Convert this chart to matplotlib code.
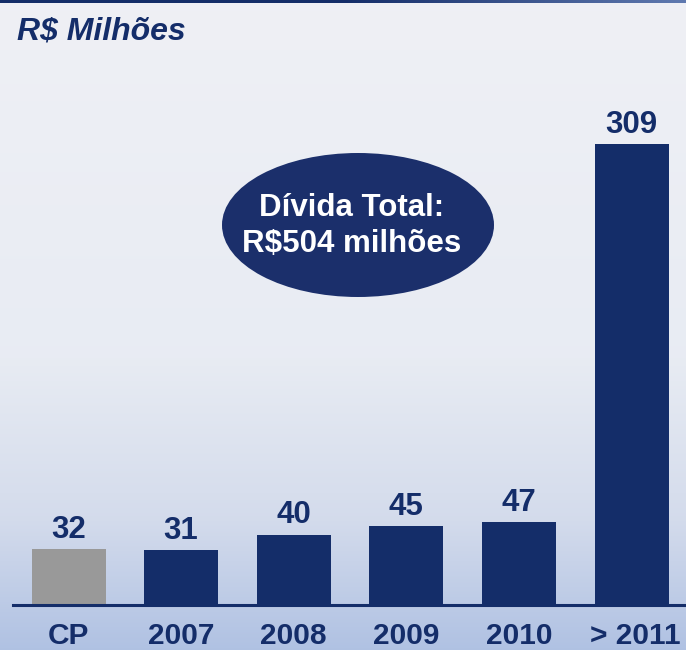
import numpy as np
import matplotlib
matplotlib.use("Agg")
import matplotlib.pyplot as plt
from matplotlib.patches import Ellipse
from matplotlib.colors import LinearSegmentedColormap
import matplotlib.transforms as mtransforms

# ---- data ----
categories = ["CP", "2007", "2008", "2009", "2010", "> 2011"]
values = [32, 31, 40, 45, 47, 309]
title_text = "R$ Milhões"
badge_text = "Dívida Total:\nR$504 milhões"

NAVY = "#142d69"
GRAY = "#999999"
bar_colors = [GRAY] + [NAVY] * (len(values) - 1)

W, H = 686, 650
fig = plt.figure(figsize=(W / 100, H / 100), dpi=100)

# background gradient
bg = fig.add_axes([0, 0, 1, 1], zorder=0)
bg.set_axis_off()
cmap = LinearSegmentedColormap.from_list(
    "bgc",
    [(0.0, (0.937, 0.941, 0.961)),
     (0.55, (0.910, 0.925, 0.953)),
     (0.80, (0.830, 0.860, 0.925)),
     (1.0, (0.690, 0.760, 0.890))])
grad = np.linspace(0, 1, 256).reshape(-1, 1)
bg.imshow(grad, aspect="auto", cmap=cmap, extent=[0, 1, 1, 0])
bg.set_xlim(0, 1)
bg.set_ylim(1, 0)
# top rule
top_cmap = LinearSegmentedColormap.from_list("top", [NAVY, NAVY, "#5f79b0"])
bg.imshow(np.linspace(0, 1, 256).reshape(1, -1), aspect="auto", cmap=top_cmap,
          extent=[0, 1, 3 / H, 0])

# main axes
left_px, right_px = 13, 686
base_px, top_px = 605, 60
ax = fig.add_axes([left_px / W, (H - base_px) / H, (right_px - left_px) / W,
                   (base_px - top_px) / H], zorder=1)
ax.patch.set_alpha(0)

T, k = 50.0, 0.8185
def fwd(y):
    y = np.asarray(y, dtype=float)
    return np.where(y <= T, y, T + (y - T) * k)
def inv(y):
    y = np.asarray(y, dtype=float)
    return np.where(y <= T, y, T + (y - T) / k)
ax.set_yscale("function", functions=(fwd, inv))

pitch = 112.6
x = np.arange(len(categories))
ax.set_xlim((left_px - 68.5) / pitch, (right_px - 68.5) / pitch)
ax.set_ylim(0, float(inv((base_px - top_px) / 1.76)))

bars = ax.bar(x, values, width=74 / pitch, color=bar_colors, zorder=2)

for xi, v in zip(x, values):
    ax.annotate(f"{v}", (xi, v), xytext=(0, 8), textcoords="offset points",
                ha="center", va="baseline", fontsize=22.5, fontweight="bold",
                color=NAVY, family="Liberation Sans", annotation_clip=False)

for sp in ["top", "right", "left"]:
    ax.spines[sp].set_visible(False)
ax.spines["bottom"].set_color(NAVY)
ax.spines["bottom"].set_linewidth(2.2)
ax.set_yticks([])
ax.set_xticks(x)
ax.set_xticklabels([])
ax.tick_params(axis="x", length=0)

# category labels, baseline-anchored near the bottom edge
label_tf = mtransforms.blended_transform_factory(ax.transData, fig.transFigure)
for i, (xi, c) in enumerate(zip(x, categories)):
    tf = label_tf
    if i == len(categories) - 1:
        tf = label_tf + mtransforms.ScaledTranslation(4 / 100, 0, fig.dpi_scale_trans)
    ax.text(xi, 6.5 / H, c, transform=tf, ha="center", va="baseline",
            fontsize=21.5, fontweight="bold", color=NAVY,
            family="Liberation Sans", clip_on=False)

# title
fig.text(17 / W, 1 - 31 / H, title_text, fontsize=23, fontweight="bold",
         fontstyle="italic", color=NAVY, family="Liberation Sans",
         ha="left", va="center")

# badge ellipse (figure pixel coords)
ov = fig.add_axes([0, 0, 1, 1], zorder=3)
ov.set_axis_off()
ov.patch.set_alpha(0)
ov.set_xlim(0, W)
ov.set_ylim(H, 0)
ov.add_patch(Ellipse((358, 225), 272, 144, facecolor="#1b2f6b", edgecolor="none"))
ov.text(352, 226, badge_text, ha="center", va="center", color="white",
        fontsize=22.5, fontweight="bold", family="Liberation Sans",
        linespacing=1.25)

fig.savefig("out.png", dpi=100)
